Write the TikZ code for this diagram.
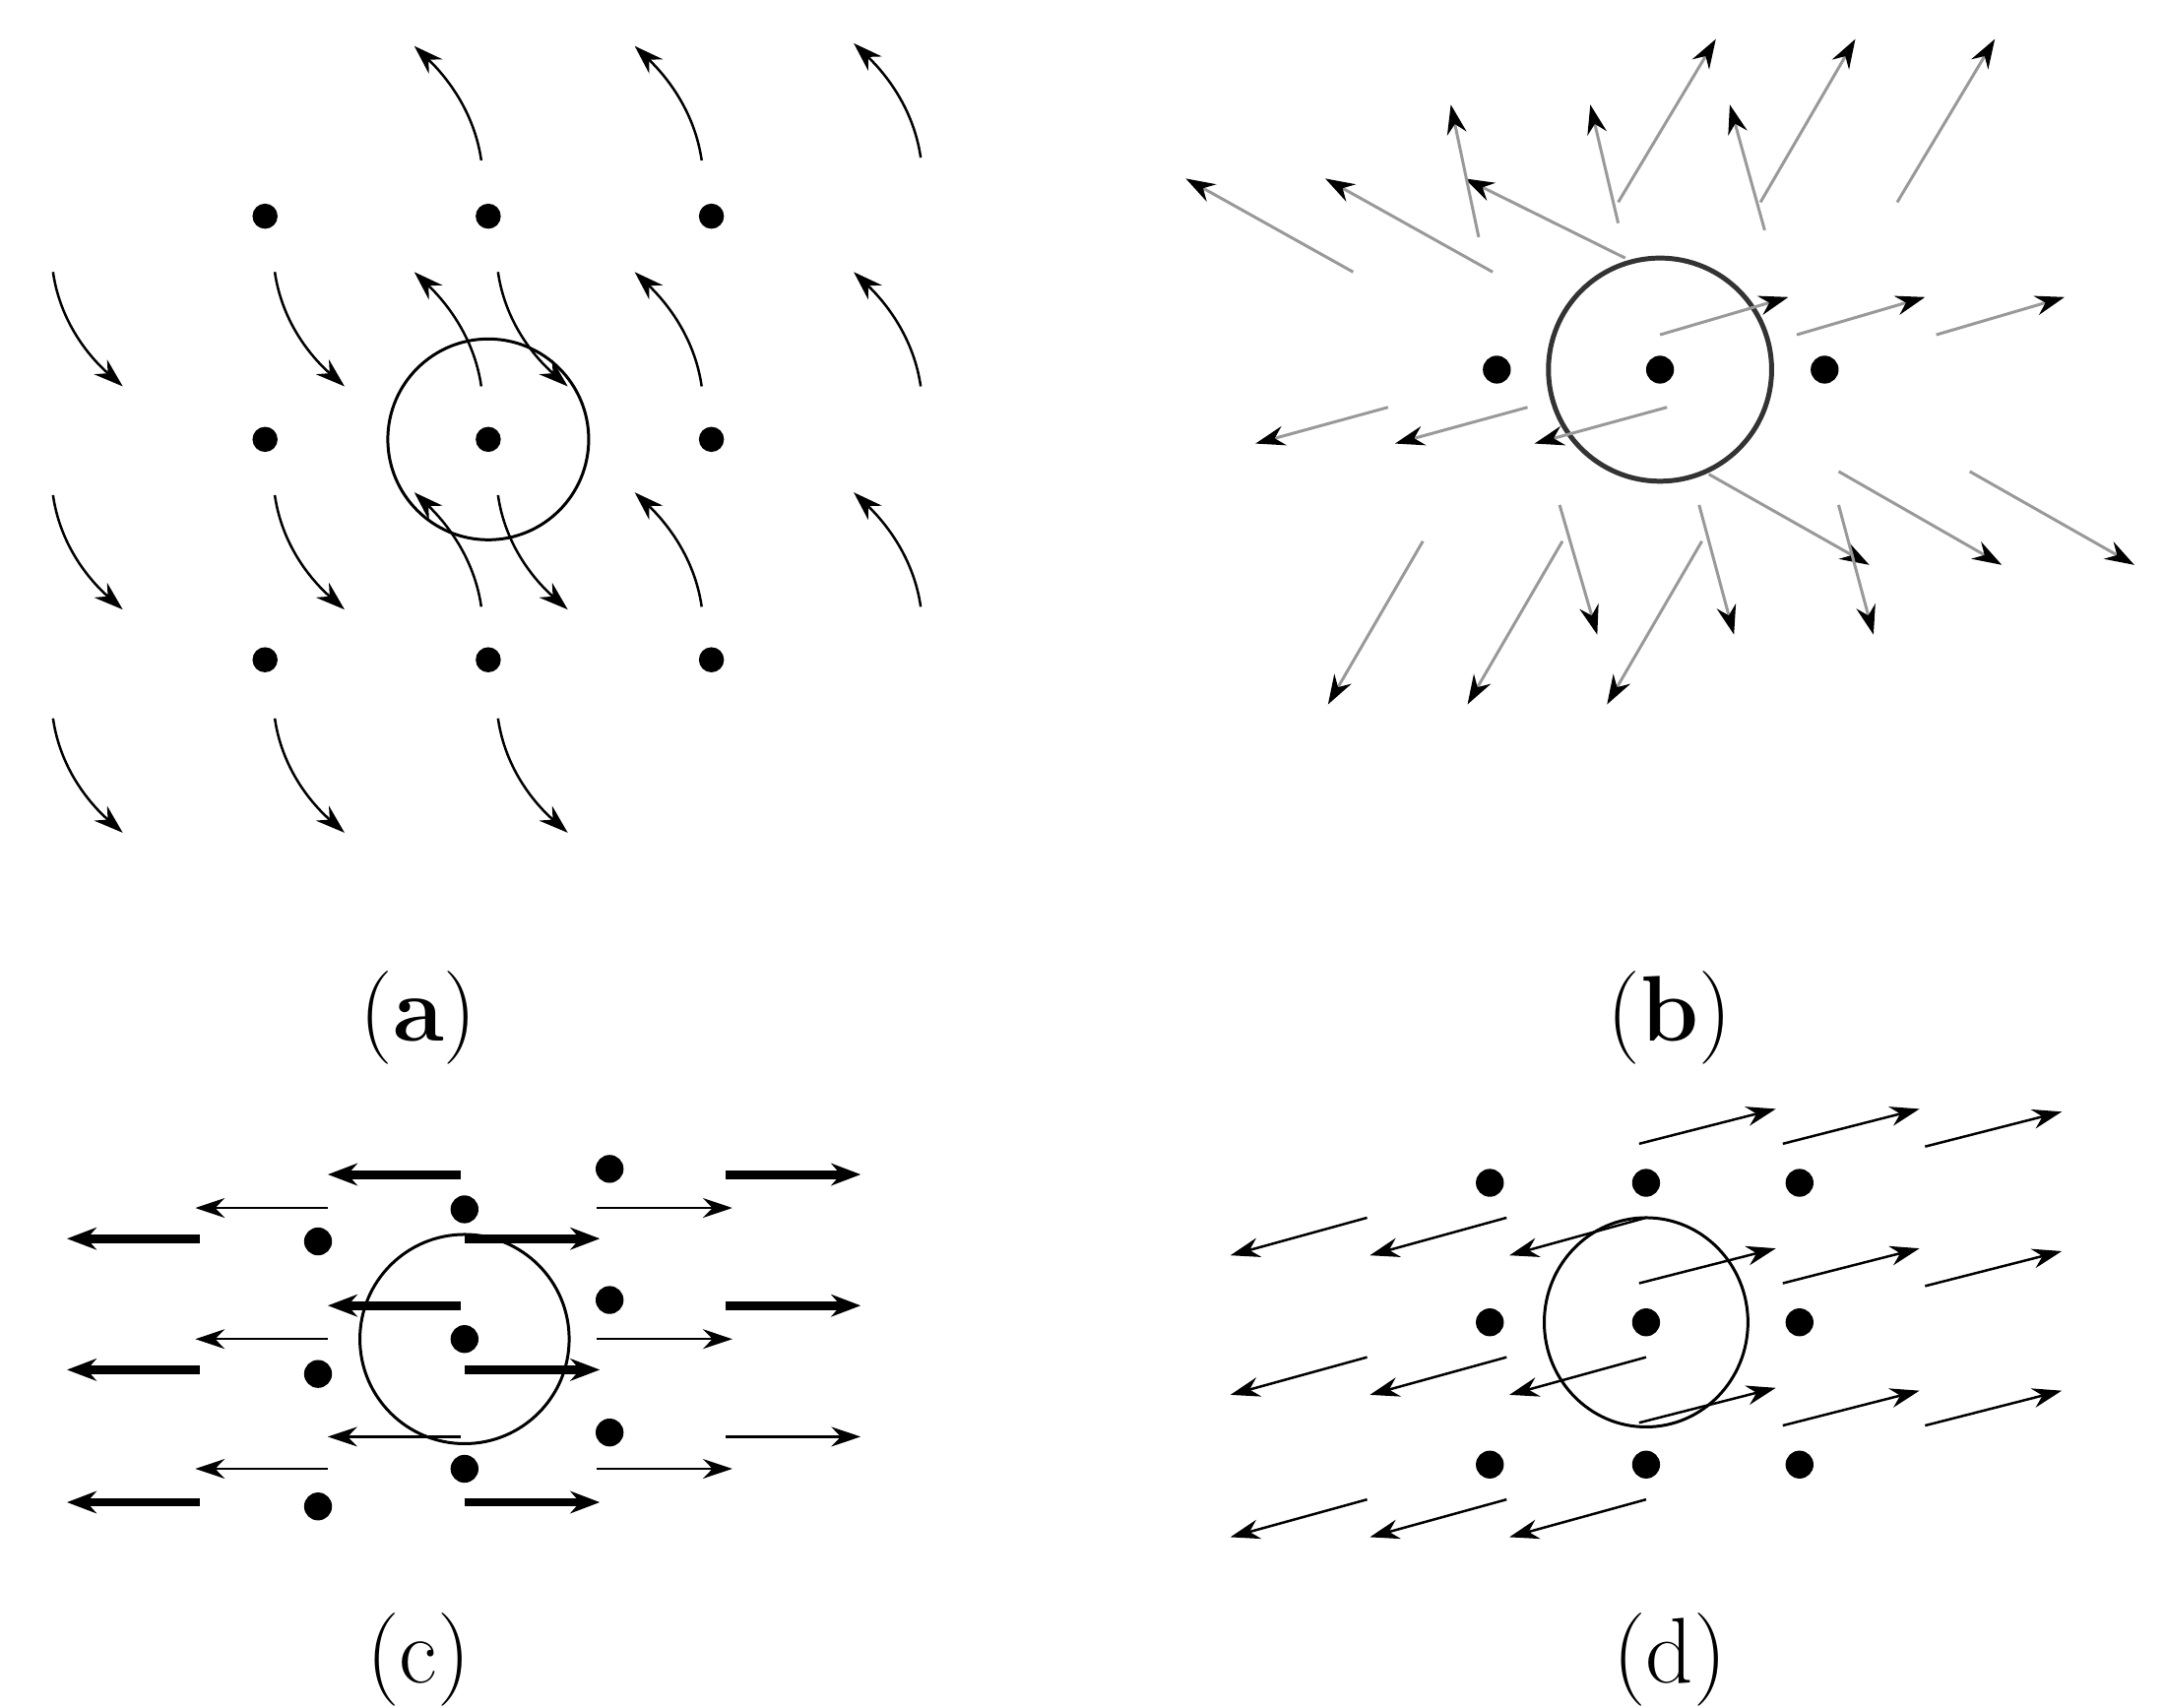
\documentclass[tikz,border=0pt]{standalone}
\usetikzlibrary{arrows.meta}
\begin{document}
\begin{tikzpicture}[x=0.01cm,y=-0.01cm,
 dot/.style={fill=black},
 tip/.style={-{Stealth[length=6,width=4]}},
 cur/.style={tip,line width=0.5pt},
 gr/.style={draw=black!40,line width=0.6pt,-{Stealth[length=6,width=4,black]}},
 thk/.style={line width=1.8pt,-{Stealth[length=6,width=4.5]}},
 thn/.style={line width=0.5pt,-{Stealth[length=6,width=4]}},
 lab/.style={font=\fontsize{19}{22}\selectfont}]
\useasboundingbox (0,0) rectangle (1552,1224);
% (a)
\foreach \x in {190,350,510}\foreach \y in {155,315,473}\fill[dot] (\x,\y) circle (9);
\draw[line width=0.6pt] (350,315) circle (72);
\foreach \x/\y in {38/195,197/195,357/195,38/355,197/355,357/355,38/515,197/515,357/515}
  \draw[cur] (\x,\y) .. controls (\x+5,\y+35) and (\x+25,\y+60) .. (\x+50,\y+82);
\foreach \x/\y in {345/115,503/115,660/113,345/277,503/277,660/277,345/435,503/435,660/435}
  \draw[cur] (\x,\y) .. controls (\x-5,\y-35) and (\x-25,\y-60) .. (\x-48,\y-82);
\node[lab] at (300,730) {(\textbf{a})};
% (b)
\foreach \x in {1073,1190,1308}\fill[dot] (\x,265) circle (10);
\draw[line width=1pt,black!80] (1190,265) circle (80);
\foreach \a/\b/\c/\d in {970/195/850/128,1070/195/950/128,1165/185/1050/128,
 1060/170/1040/75,1160/160/1140/75,1265/165/1240/75,
 1160/145/1230/28,1262/145/1330/28,1360/145/1430/28,
 1190/240/1282/213,1288/240/1380/213,1388/240/1480/213,
 995/292/900/318,1095/292/1000/318,1195/292/1100/318,
 1225/340/1340/405,1318/338/1435/405,1412/338/1530/405,
 1118/362/1145/455,1218/362/1243/455,1318/362/1343/455,
 1020/388/952/505,1120/388/1052/505,1220/388/1152/505}
  \draw[gr] (\a,\b) -- (\c,\d);
\node[lab] at (1197,730) {(\textbf{b})};
% (c)
\foreach \x/\y in {228/890,228/985,228/1080,333/867,333/960,333/1053,437/838,437/932,437/1027}
  \fill[dot] (\x,\y) circle (10);
\draw[line width=0.6pt] (333,960) circle (75);
\foreach \a/\b/\c in {330/235/842,143/48/888,330/235/936,143/48/982,143/48/1077,
 333/430/888,520/617/842,520/617/936,333/430/982,333/430/1077}
  \draw[thk] (\a,\c) -- (\b,\c);
\foreach \a/\b/\c in {235/140/866,235/140/960,330/235/1030,235/140/1053,
 428/525/866,428/525/960,520/617/1030,428/525/1053}
  \draw[thn] (\a,\c) -- (\b,\c);
\node[lab] at (300,1190) {(c)};
% (d)
\foreach \x in {1068,1180,1290}\foreach \y in {848,948,1050}\fill[dot] (\x,\y) circle (10);
\draw[line width=0.6pt] (1180,948) ellipse (73 and 75);
\foreach \x/\y in {1175/820,1278/820,1380/822,1175/920,1278/920,1380/922,1175/1020,1278/1022,1380/1022}
  \draw[thn] (\x,\y) -- (\x+98,\y-25);
\foreach \x/\y in {980/873,1080/873,1180/873,980/973,1080/973,1180/973,980/1075,1080/1075,1180/1075}
  \draw[thn] (\x,\y) -- (\x-98,\y+27);
\node[lab] at (1197,1190) {(d)};
\end{tikzpicture}
\end{document}
